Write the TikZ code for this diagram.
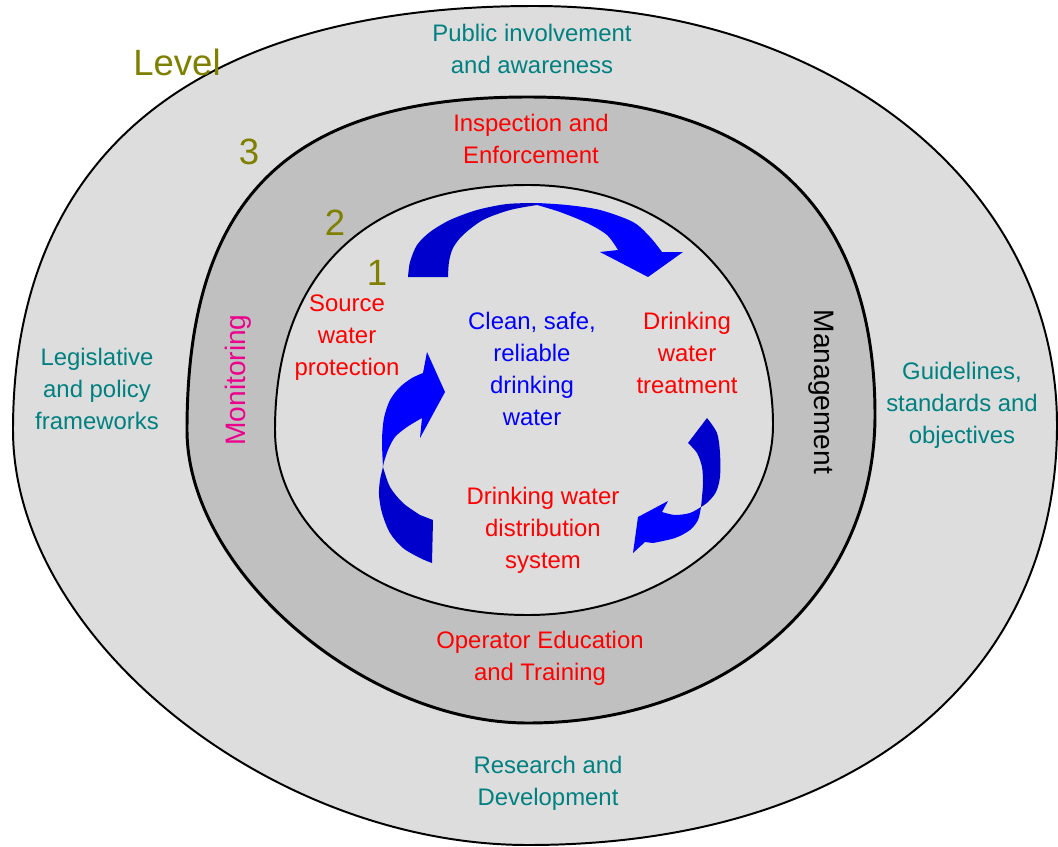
\documentclass[tikz,border=0pt]{standalone}
\usepackage{fontspec}
\setmainfont{Liberation Sans}
\definecolor{ringlight}{RGB}{221,221,221}
\definecolor{ringdark}{RGB}{192,192,192}
\definecolor{levelteal}{RGB}{0,128,128}
\definecolor{levelolive}{RGB}{128,128,0}
\definecolor{arrowdark}{RGB}{0,0,204}
\definecolor{arrowlight}{RGB}{0,0,255}
\begin{document}
\begin{tikzpicture}[x=0.025cm, y=-0.025cm,
  ringline/.style={draw=black, line width=1.4pt},
  leveltext/.style={text=levelteal, align=center, inner sep=0pt, font=\fontsize{17}{22.8}\selectfont},
  ringtext/.style={text=red, align=center, inner sep=0pt, font=\fontsize{17}{22.8}\selectfont},
  goaltext/.style={text=blue, align=center, inner sep=0pt, font=\fontsize{17}{22.8}\selectfont},
  sidetext/.style={inner sep=0pt, font=\fontsize{20}{24}\selectfont},
  levelnum/.style={text=levelolive, inner sep=0pt, font=\fontsize{26}{30}\selectfont}]
\useasboundingbox (0,0) rectangle (1058,847);

% Draw the three rings, outside first
\filldraw[ringline, fill=ringlight] (534,6) .. controls (832.1,6) and (1057,186.2) .. (1057,425)
  .. controls (1057,681.2) and (850.7,845) .. (528,845)
  .. controls (270.5,845) and (13,637.5) .. (13,430)
  .. controls (13,154.4) and (195.4,6) .. cycle;
\filldraw[ringline, line width=2.1pt, fill=ringdark] (528,97) .. controls (757,97) and (875,205.1) .. (875,415)
  .. controls (875,593.6) and (729.3,723) .. (528,723)
  .. controls (364.3,723) and (187,570.6) .. (187,430)
  .. controls (187,196.9) and (289.3,97) .. cycle;
\filldraw[ringline, fill=ringlight] (528,185) .. controls (670.1,185) and (773,285.8) .. (773,425)
  .. controls (773,527.6) and (660.3,615) .. (528,615)
  .. controls (383.8,615) and (275,535.5) .. (275,430)
  .. controls (275,273.2) and (366.1,185) .. cycle;

% Top arrow: source -> treatment
\fill[arrowdark] plot[smooth] coordinates {(408,277) (410,262) (417,245) (430,232)
  (450,220) (477,210) (507,204) (537,203)}
  -- plot[smooth] coordinates {(537,205) (510,210) (483,220) (463,235) (453,248)
  (449,262) (448,277)} -- cycle;
\fill[arrowlight] plot[smooth] coordinates {(537,203) (567,205) (600,210) (633,222)
  (650,237) (662,252)} -- (683,252) -- (648,277) -- (600,252) -- (618,250)
  -- plot[smooth] coordinates {(618,250) (607,235) (587,223) (560,212) (537,205)} -- cycle;

% Right arrow: treatment -> distribution
\fill[arrowdark] plot[smooth] coordinates {(707,418) (717,433) (720,453) (720,477)
  (716,492) (708,502) (701,507)}
  -- plot[smooth] coordinates {(701,507) (702,497) (703,483) (702,467) (697,453)
  (688,443)} -- cycle;
\fill[arrowlight] plot[smooth] coordinates {(701,507) (690,513) (675,515) (662,512)}
  -- (668,501) -- (638,517) -- (633,553) -- (645,542)
  -- plot[smooth] coordinates {(653,543) (675,538) (690,530) (698,520) (701,507)} -- cycle;

% Left arrow: distribution -> source
\fill[arrowdark] plot[smooth] coordinates {(383,467) (380,480) (379,495) (382,513)
  (390,533) (403,548) (420,558) (432,563)}
  -- (433,520)
  -- plot[smooth] coordinates {(420,515) (403,503) (390,487) (383,467)} -- cycle;
\fill[arrowlight] plot[smooth] coordinates {(383,467) (382,440) (384,418) (390,400)
  (400,387) (412,378) (423,373)} -- (427,352) -- (445,392) -- (420,438) -- (422,418)
  -- plot[smooth] coordinates {(422,418) (407,427) (395,437) (388,450) (384,462) (383,467)} -- cycle;

% Level labels
\node[levelnum] (level) at (177,62) {Level};
\node[levelnum] (lvlthree) at (249,152) {3};
\node[levelnum] (lvltwo) at (335,223) {2};
\node[levelnum] (lvlone) at (377,273) {1};

% Level 3 texts
\node[leveltext] (public) at (532,49) {Public involvement\\and awareness};
\node[leveltext] (legis) at (97,389) {Legislative\\and policy\\frameworks};
\node[leveltext] (guide) at (962,405) {Guidelines,\\standards and\\objectives};
\node[leveltext] (research) at (548,783) {Research and\\Development};

% Level 2 texts
\node[ringtext] (inspect) at (531,139) {Inspection and\\Enforcement};
\node[ringtext] (operator) at (540,658) {Operator Education\\and Training};
\node[sidetext, text=magenta, rotate=90] (monitor) at (238,380) {Monitoring};
\node[sidetext, text=black, rotate=-90] (manage) at (821,392) {Management};

% Level 1 texts
\node[ringtext] (source) at (347,338) {Source\\water\\protection};
\node[ringtext] (treat) at (687,353) {Drinking\\water\\treatment};
\node[ringtext] (distrib) at (543,530) {Drinking water\\distribution\\system};
\node[goaltext] (clean) at (532,369) {Clean, safe,\\reliable\\drinking\\water};
\end{tikzpicture}
\end{document}
